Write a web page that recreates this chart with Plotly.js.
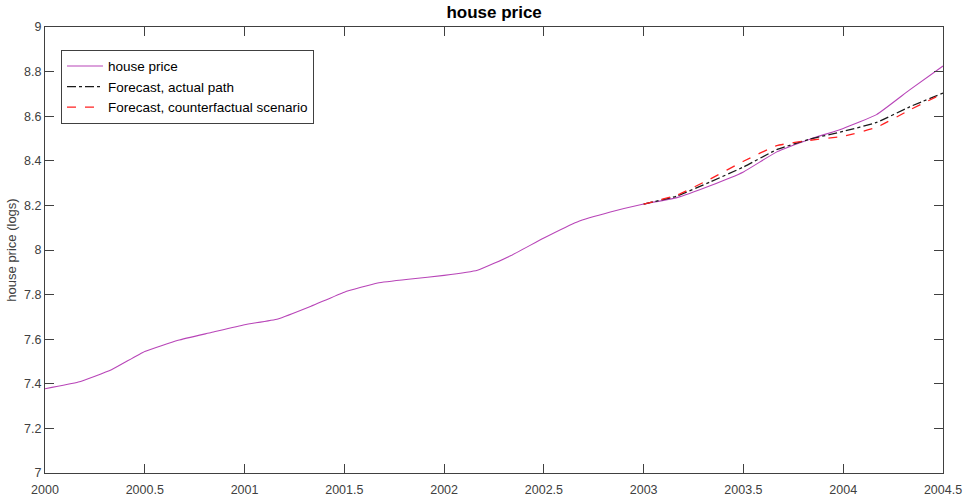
<!DOCTYPE html>
<html>
<head>
<meta charset="utf-8">
<script src="https://cdn.plot.ly/plotly-3.0.1.min.js"></script>
<style>html,body{margin:0;padding:0;background:#fff;}#chart{width:966px;height:500px;}</style>
</head>
<body>
<div id="chart"></div>
<script>
// house price (logs), observed
const hpDates = [2000.000, 2000.167, 2000.333, 2000.500, 2000.667, 2000.833,
                 2001.000, 2001.167, 2001.333, 2001.500, 2001.667, 2001.833,
                 2002.000, 2002.167, 2002.333, 2002.500, 2002.667, 2002.833,
                 2003.000, 2003.167, 2003.333, 2003.500, 2003.667, 2003.833,
                 2004.000, 2004.167, 2004.333, 2004.500];
const hpValues = [7.378, 7.408, 7.463, 7.545, 7.595, 7.630,
                  7.665, 7.691, 7.748, 7.811, 7.852, 7.870,
                  7.886, 7.909, 7.974, 8.054, 8.126, 8.170,
                  8.206, 8.235, 8.288, 8.350, 8.440, 8.497,
                  8.545, 8.607, 8.718, 8.825];
// forecast period
const fcDates = [2003.000, 2003.167, 2003.333, 2003.500, 2003.667, 2003.833,
                 2004.000, 2004.167, 2004.333, 2004.500];
const fcActual = [8.206, 8.242, 8.305, 8.372, 8.450, 8.497, 8.532, 8.572, 8.642, 8.704];
const fcCounter = [8.206, 8.246, 8.318, 8.398, 8.468, 8.492, 8.510, 8.550, 8.628, 8.702];

const xTickVals = [2000, 2000.5, 2001, 2001.5, 2002, 2002.5, 2003, 2003.5, 2004, 2004.5];
const xTickText = ["2000", "2000.5", "2001", "2001.5", "2002", "2002.5", "2003", "2003.5", "2004", "2004.5"];
const yTickVals = [7, 7.2, 7.4, 7.6, 7.8, 8, 8.2, 8.4, 8.6, 8.8, 9];
const yTickText = ["7", "7.2", "7.4", "7.6", "7.8", "8", "8.2", "8.4", "8.6", "8.8", "9"];

const seriesNames = ["house price", "Forecast, actual path", "Forecast, counterfactual scenario"];

const axisColor = '#404040';
const fontFam = 'Liberation Sans, Arial, sans-serif';

const traces = [
  {x: hpDates, y: hpValues, name: seriesNames[0], type: 'scatter', mode: 'lines',
   line: {color: '#b845b8', width: 1.1, shape: 'spline', smoothing: 0.4}},
  {x: fcDates, y: fcActual, name: seriesNames[1], type: 'scatter', mode: 'lines',
   line: {color: '#1a1a1a', width: 1.3, dash: 'dashdot', shape: 'spline', smoothing: 0.4}},
  {x: fcDates, y: fcCounter, name: seriesNames[2], type: 'scatter', mode: 'lines',
   line: {color: '#ff2020', width: 1.3, dash: 'dash', shape: 'spline', smoothing: 0.4}}
];

const layout = {
  width: 966, height: 500,
  margin: {l: 45, r: 23, t: 27, b: 27, pad: 0},
  paper_bgcolor: '#ffffff', plot_bgcolor: '#ffffff',
  font: {family: fontFam, size: 13, color: '#404040'},
  title: {text: '<b>house price</b>', x: 0.5115, xanchor: 'center', y: 0.976, yanchor: 'middle',
          font: {family: fontFam, size: 17, color: '#000000'}},
  showlegend: true,
  legend: {x: 0.0178, y: 0.949, xanchor: 'left', yanchor: 'top',
           bgcolor: '#ffffff', bordercolor: axisColor, borderwidth: 1,
           font: {family: fontFam, size: 13.5, color: '#000000'},
           itemwidth: 36, tracegroupgap: 0},
  xaxis: {range: [2000, 2004.5], tickmode: 'array', tickvals: xTickVals, ticktext: xTickText,
          ticks: 'inside', ticklen: 9, tickcolor: axisColor, tickwidth: 1,
          showline: true, linecolor: axisColor, linewidth: 1, mirror: 'ticks',
          showgrid: false, zeroline: false, fixedrange: true, ticklabelstandoff: 5,
          tickfont: {family: fontFam, size: 12.5, color: '#404040'}},
  yaxis: {range: [7, 9], tickmode: 'array', tickvals: yTickVals, ticktext: yTickText,
          ticks: 'inside', ticklen: 9, tickcolor: axisColor, tickwidth: 1,
          showline: true, linecolor: axisColor, linewidth: 1, mirror: 'ticks',
          showgrid: false, zeroline: false, fixedrange: true,
          tickfont: {family: fontFam, size: 12.5, color: '#404040'},
          title: {text: 'house price (logs)', standoff: 4,
                  font: {family: fontFam, size: 13, color: '#404040'}}}
};

Plotly.newPlot('chart', traces, layout, {displayModeBar: false, staticPlot: true});
</script>
</body>
</html>
